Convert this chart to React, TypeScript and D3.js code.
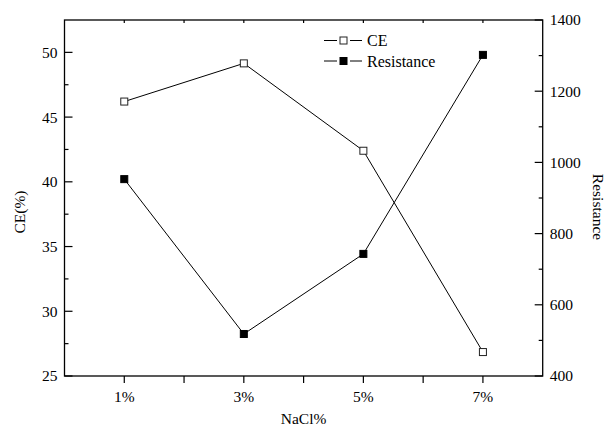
import React from "react";
import * as d3 from "d3";

const categories = ["1%", "3%", "5%", "7%"];
const xPos = [1, 3, 5, 7];
const ceValues = [46.2, 49.15, 42.4, 26.85];
const resistanceValues = [953, 518, 743, 1302];
const ceTicks = [25, 30, 35, 40, 45, 50];
const resTicks = [400, 600, 800, 1000, 1200, 1400];

const W = 606;
const H = 427;
const m = { left: 64.5, right: 542.7, top: 20, bottom: 376 };
const font = "'Liberation Serif', 'Times New Roman', serif";

const App = () => {
  const x = d3.scaleLinear().domain([0, 8]).range([m.left, m.right]);
  const yL = d3.scaleLinear().domain([25, 52.5]).range([m.bottom, m.top]);
  const yR = d3.scaleLinear().domain([400, 1400]).range([m.bottom, m.top]);

  const ceLine = d3
    .line<number>()
    .x((d, i) => x(xPos[i]))
    .y((d) => yL(d));
  const resLine = d3
    .line<number>()
    .x((d, i) => x(xPos[i]))
    .y((d) => yR(d));

  const leftMinor = d3.range(27.5, 52.5, 5);
  const rightMinor = d3.range(500, 1400, 200);
  const xTicks = d3.range(1, 8);
  const s = 7;

  // legend rows: [label, filled, y]
  const legend: [string, boolean, number][] = [
    ["CE", false, 40.5],
    ["Resistance", true, 61],
  ];

  return (
    <svg
      width={W}
      height={H}
      style={{ position: "absolute", left: 0, top: 0, background: "#fff" }}
      fontFamily={font}
    >
      {/* frame */}
      <rect
        x={m.left}
        y={m.top}
        width={m.right - m.left}
        height={m.bottom - m.top}
        fill="none"
        stroke="#000"
        strokeWidth={1.3}
      />

      {/* left axis */}
      {ceTicks.map((t) => (
        <g key={"l" + t}>
          <line x1={m.left} x2={m.left + 8} y1={yL(t)} y2={yL(t)} stroke="#000" strokeWidth={1.2} />
          <text x={m.left - 7} y={yL(t)} dy="0.35em" textAnchor="end" fontSize={15.5}>
            {t}
          </text>
        </g>
      ))}
      {leftMinor.map((t) => (
        <line key={"lm" + t} x1={m.left} x2={m.left + 4} y1={yL(t)} y2={yL(t)} stroke="#000" strokeWidth={1.2} />
      ))}

      {/* right axis */}
      {resTicks.map((t) => (
        <g key={"r" + t}>
          <line x1={m.right} x2={m.right - 8} y1={yR(t)} y2={yR(t)} stroke="#000" strokeWidth={1.2} />
          <text x={m.right + 7} y={yR(t)} dy="0.35em" textAnchor="start" fontSize={15.5}>
            {t}
          </text>
        </g>
      ))}
      {rightMinor.map((t) => (
        <line key={"rm" + t} x1={m.right} x2={m.right - 4} y1={yR(t)} y2={yR(t)} stroke="#000" strokeWidth={1.2} />
      ))}

      {/* bottom and top ticks */}
      {xTicks.map((t) => (
        <g key={"x" + t}>
          <line x1={x(t)} x2={x(t)} y1={m.bottom} y2={m.bottom + 7} stroke="#000" strokeWidth={1.2} />
          <line x1={x(t)} x2={x(t)} y1={m.top} y2={m.top + 3} stroke="#000" strokeWidth={1.2} />
        </g>
      ))}
      {categories.map((c, i) => (
        <text key={c} x={x(xPos[i])} y={397} dy="0.35em" textAnchor="middle" fontSize={15.5}>
          {c}
        </text>
      ))}

      {/* axis titles */}
      <text x={(m.left + m.right) / 2} y={424} textAnchor="middle" fontSize={15.5}>
        NaCl%
      </text>
      <text transform={`translate(20,212) rotate(-90)`} dy="0.35em" textAnchor="middle" fontSize={15.5}>
        CE(%)
      </text>
      <text transform={`translate(598,207) rotate(90)`} dy="0.35em" textAnchor="middle" fontSize={15.5}>
        Resistance
      </text>

      {/* series lines */}
      <path d={ceLine(ceValues) || ""} fill="none" stroke="#000" strokeWidth={1} />
      <path d={resLine(resistanceValues) || ""} fill="none" stroke="#000" strokeWidth={1} />

      {/* markers */}
      {ceValues.map((v, i) => (
        <rect
          key={"ce" + i}
          x={x(xPos[i]) - s / 2}
          y={yL(v) - s / 2}
          width={s}
          height={s}
          fill="#fff"
          stroke="#222"
          strokeWidth={1}
        />
      ))}
      {resistanceValues.map((v, i) => (
        <rect
          key={"res" + i}
          x={x(xPos[i]) - s / 2}
          y={yR(v) - s / 2}
          width={s}
          height={s}
          fill="#000"
          stroke="#000"
          strokeWidth={1}
        />
      ))}

      {/* legend */}
      {legend.map(([label, filled, ly]) => (
        <g key={label}>
          <line x1={324} x2={337} y1={ly} y2={ly} stroke="#000" strokeWidth={1} />
          <line x1={350} x2={362} y1={ly} y2={ly} stroke="#000" strokeWidth={1} />
          <rect
            x={343.5 - 3.5}
            y={ly - 3.5}
            width={7}
            height={7}
            fill={filled ? "#000" : "#fff"}
            stroke={filled ? "#000" : "#222"}
            strokeWidth={1}
          />
          <text x={367} y={ly} dy="0.35em" fontSize={16}>
            {label}
          </text>
        </g>
      ))}
    </svg>
  );
};

export default App;
